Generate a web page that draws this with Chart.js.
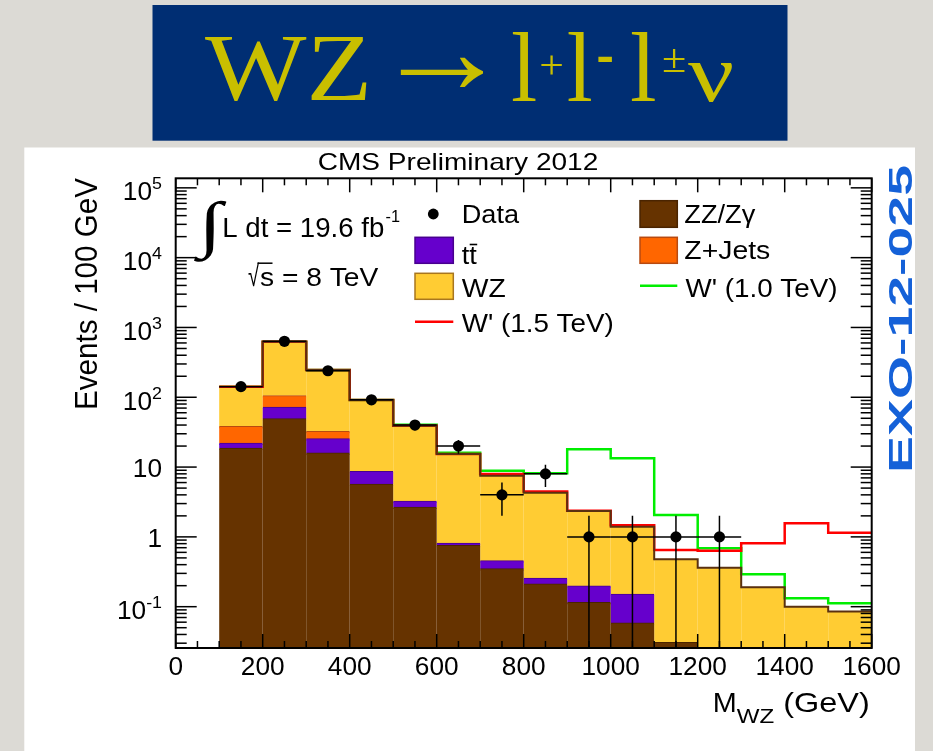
<!DOCTYPE html>
<html>
<head>
<meta charset="utf-8">
<title>WZ -> l+l-l nu</title>
<script src="https://cdn.jsdelivr.net/npm/chart.js@4.4.1/dist/chart.umd.min.js"></script>
<style>
  html, body { margin: 0; padding: 0; background: #dcdad5; }
  #wrap { position: relative; width: 933px; height: 751px; }
  canvas { display: block; }
</style>
</head>
<body>
<div id="wrap"><canvas id="massChart" width="933" height="751"></canvas></div>
<script>
// binning (GeV)
const binEdges = [100, 200, 300, 400, 500, 600, 700, 800, 900, 1000, 1100, 1200, 1300, 1400, 1500, 1600];
const binCenters = [150, 250, 350, 450, 550, 650, 750, 850, 950, 1050, 1150, 1250, 1350, 1450, 1550];

// backgrounds, events per bin (stack order bottom -> top)
const zzGamma = [18.6, 48.9, 15.8, 5.67, 2.65, 0.75, 0.347, 0.211, 0.114, 0.058, 0.0305, 0, 0, 0, 0];
const ttbar   = [3.3, 23.0, 9.5, 2.93, 0.59, 0.06, 0.105, 0.044, 0.084, 0.092, 0, 0, 0, 0, 0];
const zJets   = [16.0, 33.1, 6.8, 0, 0, 0, 0, 0, 0, 0, 0, 0, 0, 0, 0];
const wzBkg   = [104, 521, 214, 82.9, 36.0, 14.6, 7.08, 4.05, 2.15, 1.25, 0.448, 0.362, 0.190, 0.100, 0.085];

// background + signal
const wPrime15 = [141.9, 626, 246, 91.5, 39.2, 15.4, 7.96, 4.45, 2.37, 1.47, 0.649, 0.634, 0.809, 1.57, 1.15];
const wPrime10 = [141.9, 626, 246, 91.6, 40.5, 16.0, 8.89, 8.15, 18.0, 13.4, 2.06, 0.686, 0.291, 0.132, 0.112];

// data
const dataCenters = [150, 250, 350, 450, 550, 650, 750, 850, 950, 1050, 1150, 1250];
const dataCounts  = [142, 634, 240, 92, 40, 20, 4, 8, 1, 1, 1, 1];
const dataErrors  = [11.9, 25.2, 15.5, 9.6, 6.3, 4.5, 2.0, 2.83, 1.0, 1.0, 1.0, 1.0];

// axes
const xTickValues = [0, 200, 400, 600, 800, 1000, 1200, 1400, 1600];
const xMinorStep = 50;
const yLabelValues = [0.1, 1, 10, 100, 1000, 10000, 100000];
const yLabelBase = ['10', '1', '10', '10', '10', '10', '10'];
const yLabelExp  = ['-1', '', '', '2', '3', '4', '5'];
const X_MIN = 0, X_MAX = 1600;
const Y_MIN = 0.0256, Y_MAX = 1.37e5;

const SANS = '"Liberation Sans", Arial, Helvetica, sans-serif';
const SERIF = '"Liberation Serif", "Times New Roman", "DejaVu Serif", serif';

const colors = {
  zz: '#663300', zzLine: '#4a2400',
  tt: '#6600cc', ttLine: '#48008f',
  zj: '#ff6600', zjLine: '#b84a10',
  wz: '#ffcc33', wzLine: '#a8761e',
  outline: '#5a3010',
  red: '#ff0000', green: '#00ee00'
};

const bkgTotal = binCenters.map((_, i) => zzGamma[i] + ttbar[i] + zJets[i] + wzBkg[i]);

function stepPoints(vals, fromBottom) {
  const pts = [{ x: binEdges[0], y: fromBottom ? 0 : vals[0] }];
  vals.forEach((v, i) => pts.push({ x: binEdges[i + 1], y: v }));
  return pts;
}

// text drawn at baseline, stretched to a given width
function txt(ctx, str, x, y, size, w, o = {}) {
  ctx.save();
  ctx.font = (o.bold ? 'bold ' : '') + size + 'px ' + (o.family || SANS);
  ctx.fillStyle = o.color || '#000';
  ctx.textAlign = 'left';
  ctx.textBaseline = 'alphabetic';
  const m = ctx.measureText(str).width;
  ctx.translate(x, y);
  if (o.rot) ctx.rotate(o.rot);
  ctx.scale(w ? w / m : (o.sx || 1), o.sy || 1);
  ctx.fillText(str, 0, 0);
  ctx.restore();
  return w || m * (o.sx || 1);
}

// glyphs fitted into an ink box
function inkText(ctx, str, family, x0, y0, x1, y1, color) {
  ctx.save();
  ctx.font = '100px ' + family;
  ctx.textAlign = 'left';
  ctx.textBaseline = 'alphabetic';
  const m = ctx.measureText(str);
  const iw = m.actualBoundingBoxLeft + m.actualBoundingBoxRight;
  const ih = m.actualBoundingBoxAscent + m.actualBoundingBoxDescent;
  ctx.translate(x0, y0);
  ctx.scale((x1 - x0) / iw, (y1 - y0) / ih);
  ctx.fillStyle = color;
  ctx.fillText(str, m.actualBoundingBoxLeft, m.actualBoundingBoxAscent);
  ctx.restore();
}

function seg(ctx, x0, y0, x1, y1) {
  ctx.beginPath();
  ctx.moveTo(x0, y0);
  ctx.lineTo(x1, y1);
  ctx.stroke();
}

// page background, white panel and title banner
const pagePlugin = {
  id: 'page',
  beforeDraw(chart) {
    const ctx = chart.ctx;
    ctx.save();
    ctx.fillStyle = '#dcdad5';
    ctx.fillRect(0, 0, chart.width, chart.height);
    ctx.fillStyle = '#ffffff';
    ctx.fillRect(24.3, 147.5, 915 - 24.3, 751 - 147.5);
    ctx.fillStyle = '#002e73';
    ctx.fillRect(152.5, 5, 635, 135.7);
    const yel = '#c9bf00';
    inkText(ctx, 'WZ', SERIF, 205, 38.3, 366.7, 101.7, yel);
    inkText(ctx, '\u2192', SERIF, 400, 56.7, 483.3, 86.7, yel);
    inkText(ctx, 'l', SERIF, 513, 32.3, 535.7, 100.7, yel);
    inkText(ctx, '+', SERIF, 541, 55, 562, 74, yel);
    inkText(ctx, 'l', SERIF, 568.5, 32.3, 591, 100.7, yel);
    inkText(ctx, '-', SERIF, 598, 56.5, 612, 62, yel);
    inkText(ctx, 'l', SERIF, 632, 32.3, 655, 100.7, yel);
    inkText(ctx, '\u00b1', SERIF, 663.7, 48.3, 684.5, 71.7, yel);
    inkText(ctx, '\u03bd', SERIF, 688, 63, 732, 101.7, yel);
    ctx.restore();
  }
};

// data error bars, drawn under the markers
const errorBarPlugin = {
  id: 'errorBars',
  beforeDatasetDraw(chart, args) {
    if (chart.data.datasets[args.index].label !== 'Data') return;
    const { ctx, chartArea: a, scales: { x, y } } = chart;
    const halfBin = (binEdges[1] - binEdges[0]) / 2;
    ctx.save();
    ctx.beginPath();
    ctx.rect(a.left, a.top, a.right - a.left, a.bottom - a.top);
    ctx.clip();
    ctx.strokeStyle = '#000';
    ctx.lineWidth = 1.5;
    dataCounts.forEach((n, i) => {
      const cx = x.getPixelForValue(dataCenters[i]);
      const cy = y.getPixelForValue(n);
      const lo = n - dataErrors[i];
      const yLo = lo > 0 ? y.getPixelForValue(lo) : a.bottom;
      const yHi = y.getPixelForValue(n + dataErrors[i]);
      seg(ctx, cx, yLo, cx, yHi);
      seg(ctx, x.getPixelForValue(dataCenters[i] - halfBin), cy, x.getPixelForValue(dataCenters[i] + halfBin), cy);
    });
    ctx.restore();
  }
};

// ROOT-style frame, inward ticks, labels, legend and captions
const framePlugin = {
  id: 'rootFrame',
  afterDraw(chart) {
    const { ctx, chartArea: a, scales: { x, y } } = chart;
    ctx.save();
    ctx.strokeStyle = '#000';
    ctx.lineWidth = 1.5;

    // x ticks
    for (let v = X_MIN; v <= X_MAX; v += xMinorStep) {
      const px = x.getPixelForValue(v);
      const len = xTickValues.includes(v) ? 14 : 7;
      seg(ctx, px, a.bottom, px, a.bottom - len);
      seg(ctx, px, a.top, px, a.top + len);
    }
    // y ticks (log)
    for (let e = -2; e <= 5; e++) {
      for (let k = 1; k <= 9; k++) {
        const v = k * Math.pow(10, e);
        if (v < Y_MIN || v > Y_MAX) continue;
        const py = y.getPixelForValue(v);
        const len = k === 1 ? 21 : 11;
        seg(ctx, a.left, py, a.left + len, py);
        seg(ctx, a.right, py, a.right - len, py);
      }
    }
    ctx.lineWidth = 2;
    ctx.strokeRect(a.left, a.top, a.right - a.left, a.bottom - a.top);

    // x labels
    xTickValues.forEach(v => {
      const s = String(v);
      ctx.font = '25px ' + SANS;
      const w = ctx.measureText(s).width * 1.05;
      txt(ctx, s, x.getPixelForValue(v) - w / 2, a.bottom + 27, 25, w);
    });

    // y labels
    const R = 162;
    yLabelValues.forEach((v, i) => {
      const py = y.getPixelForValue(v);
      ctx.font = '25px ' + SANS;
      const bw = ctx.measureText(yLabelBase[i]).width * 1.05;
      if (yLabelExp[i]) {
        ctx.font = '17px ' + SANS;
        const ew = ctx.measureText(yLabelExp[i]).width * 1.05;
        const x0 = R - bw - ew;
        txt(ctx, yLabelBase[i], x0, py + 12.5, 25, bw);
        txt(ctx, yLabelExp[i], x0 + bw, py + 1.5, 17, ew);
      } else {
        txt(ctx, yLabelBase[i], R - bw, py + 10, 25, bw);
      }
    });

    // axis titles
    txt(ctx, 'M', 712.7, 711.7, 28, 24);
    txt(ctx, 'WZ', 736.7, 723.3, 21, 37.5);
    txt(ctx, '(GeV)', 783.3, 711.7, 28, 86.5);
    txt(ctx, 'Events / 100 GeV', 97, 410, 28, 232, { rot: -Math.PI / 2, sy: 1.1 });

    // captions
    txt(ctx, 'CMS Preliminary 2012', 317.7, 170, 24, 280.6);
    txt(ctx, 'EXO-12-025', 911.7, 473, 30, 308, { rot: -Math.PI / 2, bold: true, sy: 1.08, color: '#1561d8' });
    inkText(ctx, '\u222b', SERIF, 193.3, 200, 226.7, 261.7, '#000');
    txt(ctx, 'L dt = 19.6 fb', 222.3, 236.7, 27, 162);
    txt(ctx, '-1', 385.5, 222, 17, 14.5);
    inkText(ctx, '\u221a', SANS, 248.3, 262.5, 259, 286.5, '#000');
    txt(ctx, 's = 8 TeV', 260, 286, 26, 118.3);
    ctx.lineWidth = 1.5;
    seg(ctx, 257.5, 263.2, 272.5, 263.2);

    // legend
    ctx.fillStyle = '#000';
    ctx.beginPath();
    ctx.arc(433.3, 214, 5.4, 0, Math.PI * 2);
    ctx.fill();
    txt(ctx, 'Data', 461.7, 222.7, 25, 57.3);

    const box = (x0, y0, w, h, fill, line) => {
      ctx.fillStyle = fill;
      ctx.fillRect(x0, y0, w, h);
      ctx.strokeStyle = line;
      ctx.lineWidth = 1.5;
      ctx.strokeRect(x0, y0, w, h);
    };
    box(415, 237.3, 38.3, 26, colors.tt, colors.ttLine);
    const tw = txt(ctx, 'tt', 461.7, 264, 25, 15);
    ctx.strokeStyle = '#000';
    ctx.lineWidth = 1.6;
    seg(ctx, 461.7 + tw / 2 + 0.5, 244.5, 461.7 + tw + 0.5, 244.5);

    box(415, 273.3, 38.3, 26, colors.wz, colors.wzLine);
    txt(ctx, 'WZ', 461.7, 296.7, 25, 44);

    ctx.strokeStyle = colors.red;
    ctx.lineWidth = 2.5;
    seg(ctx, 415, 321.7, 453.3, 321.7);
    txt(ctx, "W' (1.5 TeV)", 461.7, 331.5, 25, 152);

    box(640, 200.7, 37.3, 26.6, colors.zz, colors.zzLine);
    txt(ctx, 'ZZ/Z\u03b3', 684.3, 222.7, 25, 71);

    box(640, 237.3, 37.3, 26, colors.zj, colors.zjLine);
    txt(ctx, 'Z+Jets', 684.3, 259.3, 25, 86);

    ctx.strokeStyle = colors.green;
    ctx.lineWidth = 2.5;
    seg(ctx, 640, 285.7, 677.3, 285.7);
    txt(ctx, "W' (1.0 TeV)", 685.5, 296.7, 25, 152);

    ctx.restore();
  }
};

const barDefaults = {
  type: 'bar',
  stack: 'bkg',
  order: 10,
  barPercentage: 1,
  categoryPercentage: 1,
  inflateAmount: 0.6,
  borderWidth: { top: 1, left: 0, right: 0, bottom: 0 },
  borderSkipped: false
};

const stepLine = (label, vals, color, width, order, fromBottom) => ({
  type: 'line',
  label,
  data: stepPoints(vals, fromBottom),
  stack: label,
  order,
  stepped: 'after',
  borderColor: color,
  borderWidth: width,
  pointRadius: 0,
  fill: false,
  tension: 0
});

new Chart(document.getElementById('massChart'), {
  type: 'bar',
  data: {
    datasets: [
      Object.assign({}, barDefaults, { label: 'ZZ/Z\u03b3', data: binCenters.map((c, i) => ({ x: c, y: zzGamma[i] })), backgroundColor: colors.zz, borderColor: colors.zzLine }),
      Object.assign({}, barDefaults, { label: 'ttbar', data: binCenters.map((c, i) => ({ x: c, y: ttbar[i] })), backgroundColor: colors.tt, borderColor: colors.ttLine }),
      Object.assign({}, barDefaults, { label: 'Z+Jets', data: binCenters.map((c, i) => ({ x: c, y: zJets[i] })), backgroundColor: colors.zj, borderColor: colors.zjLine }),
      Object.assign({}, barDefaults, { label: 'WZ', data: binCenters.map((c, i) => ({ x: c, y: wzBkg[i] })), backgroundColor: colors.wz, borderColor: colors.wzLine }),
      stepLine("W' (1.0 TeV)", wPrime10, colors.green, 2.5, 4, false),
      stepLine("W' (1.5 TeV)", wPrime15, colors.red, 2.5, 3, false),
      stepLine('Total background', bkgTotal, colors.outline, 2, 2, true),
      {
        type: 'scatter',
        label: 'Data',
        stack: 'data',
        order: 0,
        data: dataCenters.map((c, i) => ({ x: c, y: dataCounts[i] })),
        pointRadius: 5.6,
        pointBackgroundColor: '#000',
        pointBorderWidth: 0
      }
    ]
  },
  options: {
    responsive: false,
    animation: false,
    events: [],
    layout: { padding: { left: 175.7, top: 178.3, right: 933 - 871.7, bottom: 751 - 648 } },
    plugins: { legend: { display: false }, tooltip: { enabled: false } },
    scales: {
      x: { type: 'linear', display: false, min: X_MIN, max: X_MAX, offset: false, stacked: true, ticks: { stepSize: 200 } },
      y: { type: 'logarithmic', display: false, min: Y_MIN, max: Y_MAX, stacked: true }
    }
  },
  plugins: [pagePlugin, errorBarPlugin, framePlugin]
});
</script>
</body>
</html>
